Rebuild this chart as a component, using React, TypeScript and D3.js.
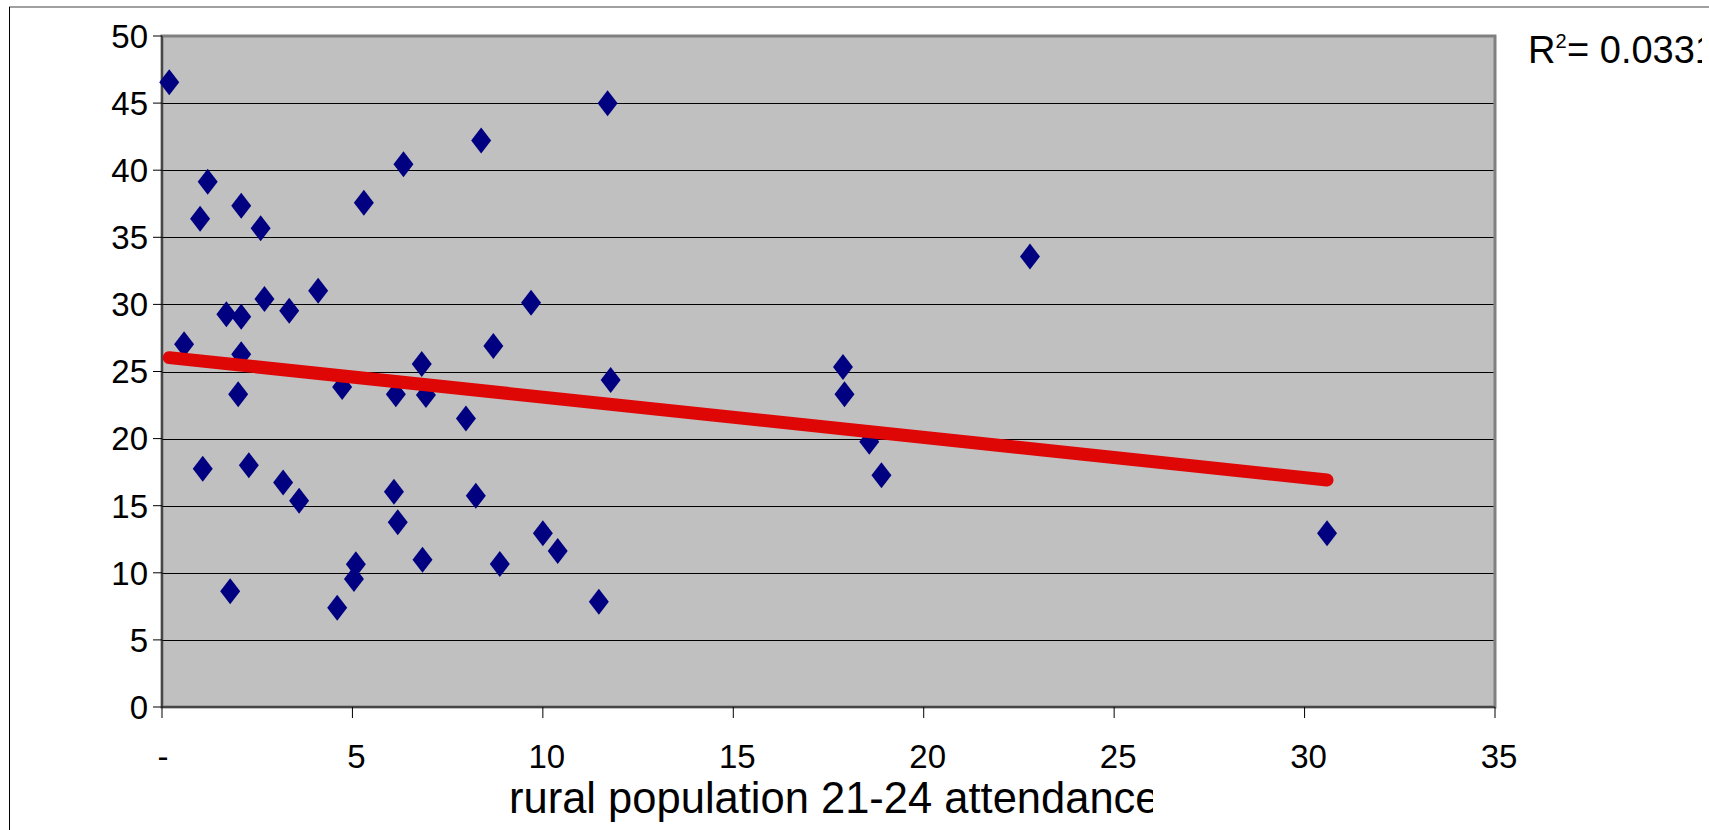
import { useEffect } from "react";
import * as d3 from "d3";

// rural population 21-24 attendance (x) vs the plotted value (y)
const ruralX = [
  0.19, 1.2, 1.0, 2.08, 2.59, 5.3, 6.34, 1.69, 2.08, 2.69,
  3.34, 4.1, 0.58, 2.08, 2.0, 6.82, 4.73, 6.14, 6.93, 8.38,
  11.7, 9.69, 8.7, 7.98, 11.78, 17.88, 17.92, 22.79, 18.57, 18.89,
  1.07, 2.28, 3.18, 3.6, 1.79, 4.6, 5.09, 5.04, 6.09, 6.19,
  6.84, 8.24, 8.87, 10.0, 10.39, 11.47, 30.59,
];
const valueY = [
  46.55, 39.14, 36.39, 37.36, 35.67, 37.58, 40.44, 29.26, 29.08, 30.4,
  29.53, 31.02, 27.03, 26.28, 23.3, 25.56, 23.85, 23.3, 23.25, 42.22,
  44.98, 30.13, 26.9, 21.5, 24.37, 25.33, 23.3, 33.56, 19.77, 17.26,
  17.76, 18.01, 16.72, 15.37, 8.62, 7.4, 10.63, 9.54, 16.04, 13.76,
  10.98, 15.75, 10.66, 12.94, 11.62, 7.85, 12.94,
];

// linear trend line as shown on the chart
const trendIntercept = 26.09;
const trendSlope = -0.3;
const rSquared = "0.0331";

const xTicks = [0, 5, 10, 15, 20, 25, 30, 35];
const yTicks = [0, 5, 10, 15, 20, 25, 30, 35, 40, 45, 50];
const xTitle = "rural population 21-24 attendance";

const W = 1709;
const H = 830;
const margin = { left: 162, top: 36, right: 1495, bottom: 707 };
const font = "'Liberation Sans', Arial, sans-serif";

// tall diamond, like the spreadsheet marker
const diamond = (cx: number, cy: number, hw: number, hh: number) => {
  const p = d3.path();
  p.moveTo(cx, cy - hh);
  p.lineTo(cx + hw, cy);
  p.lineTo(cx, cy + hh);
  p.lineTo(cx - hw, cy);
  p.closePath();
  return p.toString();
};

export default function App() {
  useEffect(() => {
    document.body.style.margin = "0";
  }, []);

  const x = d3.scaleLinear().domain([0, 35]).range([margin.left, margin.right]);
  const y = d3.scaleLinear().domain([0, 50]).range([margin.bottom, margin.top]);

  const points = ruralX.map((v, i) => ({ x: v, y: valueY[i] }));
  const [xMin, xMax] = d3.extent(ruralX) as [number, number];
  const trendLine = d3
    .line<number>()
    .x((d) => x(d))
    .y((d) => y(trendIntercept + trendSlope * d));

  const plotW = margin.right - margin.left;
  const plotH = margin.bottom - margin.top;

  return (
    <svg
      width={W}
      height={H}
      style={{ position: "absolute", left: 0, top: 0, display: "block" }}
      fontFamily={font}
    >
      <defs>
        <clipPath id="titleClip">
          <rect x={0} y={720} width={1153} height={110} />
        </clipPath>
        <clipPath id="rClip">
          <rect x={1500} y={0} width={202} height={120} />
        </clipPath>
      </defs>
      <rect width={W} height={H} fill="#fff" />
      {/* outer chart border */}
      <line x1={9} x2={W} y1={7} y2={7} stroke="#808080" strokeWidth={1.5} />
      <line x1={9.5} x2={9.5} y1={7} y2={H} stroke="#000" strokeWidth={1} />

      {/* plot area */}
      <rect
        x={margin.left}
        y={margin.top}
        width={plotW}
        height={plotH}
        fill="#c0c0c0"
        stroke="#808080"
        strokeWidth={3}
      />
      {yTicks
        .filter((t) => t > 0 && t < 50)
        .map((t) => (
          <line
            key={"g" + t}
            x1={margin.left}
            x2={margin.right - 1.5}
            y1={Math.round(y(t)) + 0.5}
            y2={Math.round(y(t)) + 0.5}
            stroke="#000"
            strokeWidth={1}
          />
        ))}

      {/* axes */}
      <line x1={margin.left} x2={margin.left} y1={margin.top} y2={margin.bottom} stroke="#333" strokeWidth={1.5} />
      <line x1={margin.left} x2={margin.right} y1={margin.bottom} y2={margin.bottom} stroke="#333" strokeWidth={1.5} />
      {yTicks.map((t) => (
        <g key={"y" + t}>
          <line x1={margin.left - 9} x2={margin.left} y1={y(t)} y2={y(t)} stroke="#000" strokeWidth={1} />
          <text x={148} y={y(t)} dy="0.36em" textAnchor="end" fontSize={33} fill="#000">
            {t}
          </text>
        </g>
      ))}
      {xTicks.map((t) => (
        <g key={"x" + t}>
          <line x1={x(t)} x2={x(t)} y1={margin.bottom} y2={margin.bottom + 11} stroke="#000" strokeWidth={1} />
          <text
            x={t === 0 ? x(t) + 1 : x(t) + 4}
            y={768}
            textAnchor="middle"
            fontSize={33}
            fill="#000"
          >
            {t === 0 ? "-" : t}
          </text>
        </g>
      ))}

      {/* markers */}
      {points.map((d, i) => (
        <path key={i} d={diamond(x(d.x), y(d.y), 10, 13)} fill="#000080" />
      ))}

      {/* trend line */}
      <path
        d={trendLine([xMin, xMax]) ?? ""}
        fill="none"
        stroke="#df0606"
        strokeWidth={13}
        strokeLinecap="round"
      />

      {/* R squared label */}
      <g clipPath="url(#rClip)">
        <text x={1528} y={63} fontSize={38} fill="#000">
          R
          <tspan dx={0} dy={-15} fontSize={20}>
            2
          </tspan>
          <tspan x={1567} dy={15}>
            {"= " + rSquared}
          </tspan>
        </text>
      </g>

      {/* x axis title */}
      <text x={509} y={813} fontSize={43.5} fill="#000" clipPath="url(#titleClip)">
        {xTitle}
      </text>
    </svg>
  );
}
